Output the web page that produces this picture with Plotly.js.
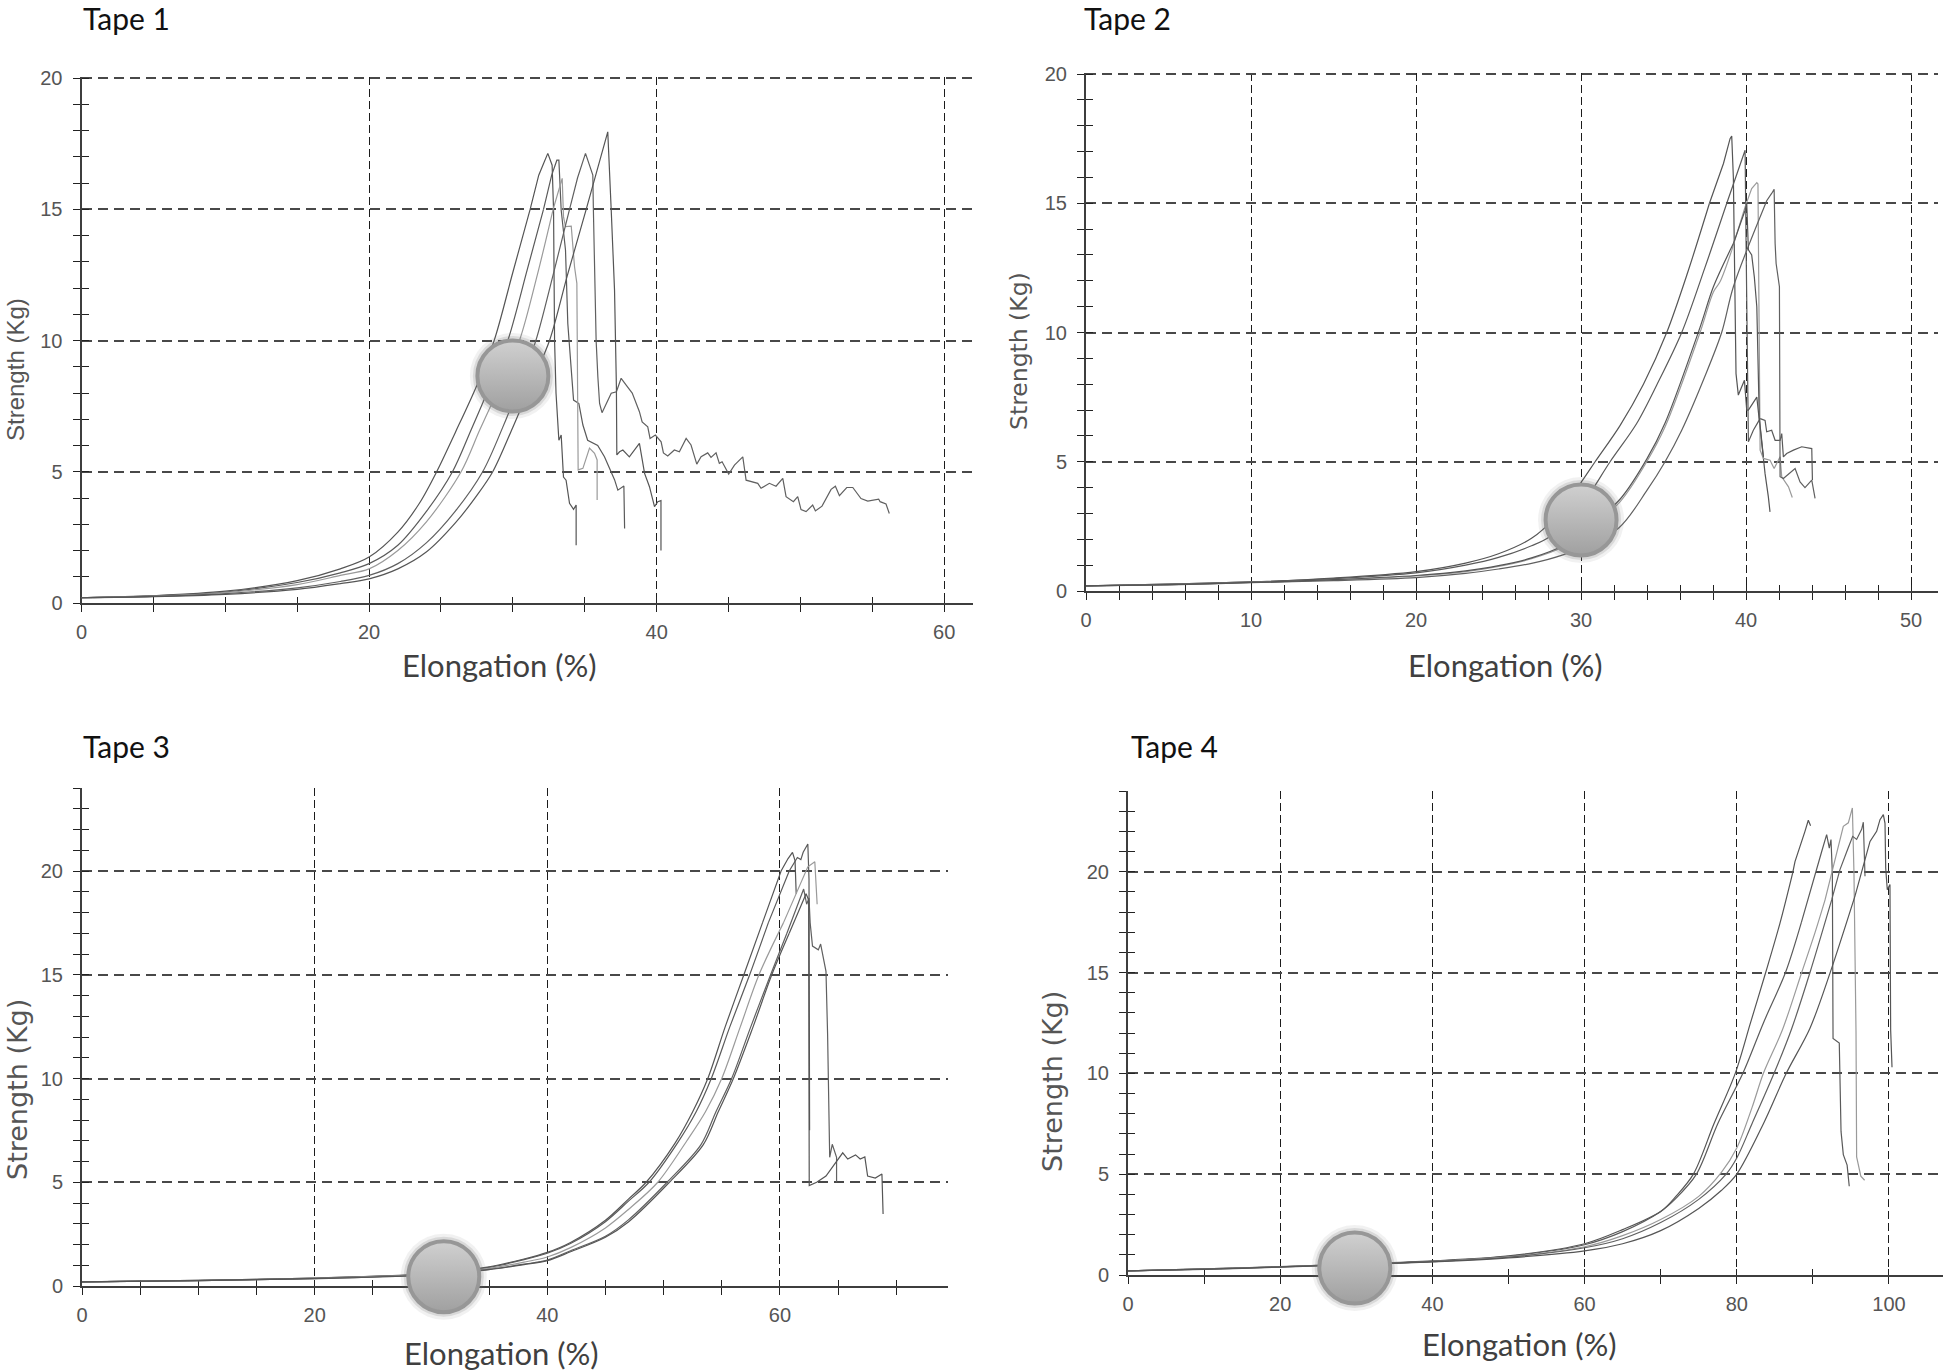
<!DOCTYPE html>
<html>
<head>
<meta charset="utf-8">
<script src="https://cdn.plot.ly/plotly-3.0.1.min.js"></script>
<style>html,body{margin:0;padding:0;background:#fff}</style>
</head>
<body>
<div id="chart" style="width:1946px;height:1371px"></div>
<script>
// ---------- values: [elongation %, strength Kg] ----------
const tape1A = [[0,.2],[5,.28],[10,.45],[15,.85],[18,1.3],[20,1.75],[22,2.7],[23.5,3.8],[24.7,5],[26,6.5],[27.5,8.3],[28.7,10],[30,12.6],[31.2,15],[31.8,16.3],[32.1,16.7],[32.43,17.13],[32.73,16.68],[32.83,14.97],[32.9,10],[33,8],[33.2,6.2],[33.36,6.4],[33.52,4.8],[33.7,4.68],[33.94,3.8],[34.22,3.57],[34.4,3.73],[34.4,2.2]];
const tape1B = [[0,.2],[5,.27],[10,.42],[15,.78],[18,1.15],[20,1.5],[22,2.2],[24,3.5],[25.8,5],[27.1,6.6],[28.5,8.4],[29.65,10],[31,12.7],[32.13,15],[32.7,16.3],[33.06,16.87],[33.2,16.87],[33.36,14.97],[33.66,13.45],[33.82,10.65],[34.06,8.87],[34.22,7.73],[34.59,7.6],[34.87,6.78],[35.2,6.2],[35.9,6],[36.37,5.57],[36.72,5.13],[37.07,4.7],[37.3,4.3],[37.72,4.46],[37.77,2.84]];
const tape1C = [[0,.2],[5,.26],[10,.4],[15,.7],[18,1.05],[20,1.3],[22,2],[24,3.1],[26.4,5],[27.7,6.6],[29.2,8.4],[30.46,10],[31.7,12.5],[32.8,15],[33.1,15.6],[33.43,16.18],[33.52,14.72],[33.66,14.34],[34.06,14.36],[34.29,12.8],[34.45,12.18],[34.54,5.07],[34.87,5.13],[35.33,5.9],[35.68,5.7],[35.86,5.45],[35.86,3.92]];
const tape1D = [[0,.2],[5,.25],[10,.36],[15,.58],[18,.82],[20,1.05],[22,1.5],[24,2.3],[26,3.5],[27.9,5],[29.3,6.7],[30.6,8.5],[31.6,10],[32.8,12.5],[33.94,15],[34.5,16.2],[35.05,17.13],[35.33,16.68],[35.56,16.3],[35.6,14.97],[35.79,10],[35.91,8.62],[36.03,7.6],[36.2,7.25],[36.5,7.6],[36.84,7.99],[37.2,8.05],[37.53,8.56],[37.88,8.3],[38.3,8],[38.8,7.29],[38.99,6.9],[39.38,6.71],[39.54,6.27],[39.91,6.4],[40.31,6.14],[40.47,5.72],[40.77,5.6],[41.23,5.83],[41.58,5.76],[42.05,6.27],[42.39,6.02],[42.79,5.29],[43.09,5.57],[43.55,5.72],[43.78,5.55],[44.13,5.72],[44.36,5.32],[44.55,5.38],[45.01,4.91],[45.41,5.25],[45.99,5.57],[46.22,4.68],[47.03,4.56],[47.26,4.37],[47.84,4.56],[48.3,4.45],[48.77,4.75],[49,4.05],[49.51,3.86],[49.81,4.05],[50.04,3.56],[50.39,3.48],[50.85,3.73],[51.04,3.51],[51.5,3.69],[52.13,4.33],[52.43,4.45],[52.71,4.09],[53.22,4.4],[53.64,4.4],[54.21,3.98],[54.68,3.88],[55.44,3.96],[55.54,3.86],[55.95,3.77],[56.18,3.41]];
const tape1E = [[0,.2],[5,.24],[10,.33],[15,.52],[18,.74],[20,.92],[22,1.3],[24,1.95],[26,3.05],[27.5,4.1],[28.6,5],[30,6.7],[31.4,8.5],[32.55,10],[33.8,12.5],[35.1,15],[35.9,16.6],[36.6,17.95],[36.84,14.97],[37.07,11.92],[37.2,8.24],[37.23,5.64],[37.42,5.76],[37.65,5.83],[38.1,5.57],[38.58,5.89],[38.8,6.08],[39.16,4.94],[39.5,4.43],[39.85,3.67],[40.08,3.86],[40.3,3.9],[40.3,2]];

const tape2A = [[0,.2],[5,.27],[10,.35],[15,.5],[20,.75],[23,1.08],[25,1.44],[27,2.04],[28.5,2.9],[30,4.2],[30.85,5],[32.36,6.4],[33.78,8],[35.19,10],[36.5,12.4],[37.78,15],[38.63,16.54],[39.03,17.5],[39.13,17.6],[39.23,16],[39.29,12.15],[39.39,8.41],[39.53,7.58],[39.9,8.15],[40.04,7],[40.14,7],[40.65,7.5],[40.8,6.6],[41.05,4.93],[41.15,4.54],[41.35,3.64],[41.45,3.06]];
const tape2B = [[0,.2],[5,.27],[10,.35],[15,.48],[20,.7],[23,1],[25,1.3],[27,1.75],[28.1,2.1],[30,3.3],[31.76,5],[33.37,6.48],[34.58,7.96],[36.1,10],[37.5,12.5],[38.83,15],[39.5,16.2],[39.94,17.05],[40,13.44],[40.08,9.57],[40.14,5.77],[40.44,6.22],[40.85,6.67],[41.15,6.6],[41.25,6.16],[41.55,6.22],[41.76,5.83],[42.06,5.83],[42.16,6.09],[42.26,5.19],[42.46,5.32],[42.87,5.45],[43.37,5.58],[43.98,5.51],[44.02,4.29]];
const tape2C = [[0,.2],[5,.25],[10,.33],[15,.43],[20,.58],[23,.75],[25,.95],[27,1.25],[28.9,1.7],[30,2.2],[32.36,3.45],[33.98,5],[35.09,6.35],[37.21,10],[38.02,11.57],[38.42,11.96],[39.13,13.18],[39.94,14.86],[40.34,15.57],[40.65,15.8],[40.72,15.75],[40.8,10.86],[40.85,5.45],[41.05,5.13],[41.45,5.06],[41.7,4.74],[42.06,5.19],[42.16,4.42],[42.57,4.03],[42.8,3.62]];
const tape2D = [[0,.2],[5,.24],[10,.32],[15,.4],[20,.52],[23,.68],[25,.85],[27,1.07],[28.9,1.4],[30,1.7],[32.3,2.45],[34,3.9],[35.09,5],[36.1,6.22],[37.5,8.3],[38.52,10],[39.23,11.77],[40.85,14.47],[41.25,15.1],[41.55,15.38],[41.7,15.54],[41.76,13.44],[41.82,12.67],[42.02,11.77],[42.06,4.42],[42.26,4.35],[42.97,4.74],[43.27,4.22],[43.57,4],[43.98,4.29],[44.18,3.58]];
const tape2E = [[0,.2],[5,.25],[10,.33],[15,.44],[20,.6],[23,.78],[25,.98],[27,1.28],[28.9,1.75],[30,2.25],[32.36,3.55],[33.98,5.1],[35.09,6.5],[37.21,10.2],[38.02,11.77],[39.23,13.44],[39.94,14.73],[40.04,15],[40.14,13.2],[40.34,13],[40.5,12.15],[40.65,11],[40.8,6.7],[41.05,5.19]];

const tape3A = [[0,.2],[10,.27],[20,.38],[30,.6],[35,.92],[38,1.3],[40,1.62],[42,2.1],[45,3.17],[47,4.2],[48.5,5],[51,6.9],[52.5,8.4],[53.8,10],[55.3,12.5],[56.9,15],[58.5,17.5],[60.1,20],[60.7,20.6],[61.08,20.9],[61.3,20.5],[61.4,18.9]];
const tape3B = [[0,.2],[10,.27],[20,.38],[30,.59],[35,.9],[38,1.27],[40,1.58],[42,2.05],[45,3.1],[47,4.1],[48.75,5],[51.2,6.9],[52.8,8.4],[54.1,10],[55.7,12.5],[57.4,15],[59,17.5],[60.8,20],[61.5,20.65],[61.8,20.55],[62,20.9],[62.4,21.3],[62.5,19.6],[62.55,7.5]];
const tape3C = [[0,.2],[10,.26],[20,.37],[30,.56],[35,.85],[38,1.15],[40,1.4],[42,1.85],[45,2.8],[47,3.7],[49.5,5],[52,7],[53.6,8.4],[55,10],[56.6,12.5],[58.2,15],[60.3,17.5],[62,19.7],[62.4,20.2],[63,20.45],[63.2,18.4]];
const tape3D = [[0,.2],[10,.26],[20,.36],[30,.53],[35,.8],[38,1.05],[40,1.25],[42,1.7],[45,2.4],[47,3.2],[50.3,5],[53.2,6.8],[54.5,8.4],[55.85,10],[57.5,12.5],[59.2,15],[60.6,17],[62.04,19.13],[62.3,18.4],[62.5,18.7],[62.6,17.5],[62.8,16.38],[63.3,16.2],[63.5,16.48],[63.96,15.16],[64.1,12.1],[64.28,6.2],[64.5,6.83],[64.87,6.2],[64.87,5]];
const tape3E = [[0,.2],[10,.26],[20,.36],[30,.53],[35,.79],[38,1.03],[40,1.22],[42,1.65],[45,2.35],[47,3.1],[50.5,5],[53.4,6.8],[54.7,8.4],[56,10],[57.7,12.5],[59.3,15],[60.8,17],[62.25,18.9],[62.47,18.6],[62.52,4.84],[63.16,5],[63.96,5.3],[65.4,6.42],[65.83,6.12],[66.5,6.32],[66.9,6.12],[67.3,6.22],[67.54,5.3],[68.2,5.2],[68.77,5.4],[68.87,3.47]];

const tape4A = [[0,.2],[10,.3],[20,.42],[30,.55],[40,.7],[50,.95],[60,1.55],[65,2.25],[70,3.15],[72,3.9],[74.3,5],[77,7.5],[79.8,10],[81.8,12.5],[83.8,15],[85.68,17.45],[87.34,19.93],[87.65,20.5],[88.96,22],[89.4,22.55],[89.7,22.28]];
const tape4B = [[0,.2],[10,.3],[20,.41],[30,.54],[40,.68],[50,.93],[60,1.5],[65,2.15],[70,3.15],[72,3.8],[74.7,5],[77.5,7.5],[80.8,10],[83.5,12.5],[86.4,15],[88.5,17.5],[90.28,19.93],[91.16,21],[91.81,21.84],[92.16,21.17],[92.38,21.59],[92.56,19.93],[92.65,11.73],[93.47,11.5],[93.7,7.12],[94,5.97],[94.5,5.45],[94.78,4.4]];
const tape4C = [[0,.2],[10,.29],[20,.4],[30,.53],[40,.67],[50,.9],[60,1.4],[65,1.95],[70,2.75],[75,3.9],[78,5.1],[80,6.3],[82,8.3],[83.5,10],[86,12.16],[88.53,15],[90.3,17],[91.6,18.6],[92.47,19.93],[93.35,21.26],[94,22.25],[94.66,22.42],[95.19,23.16],[95.4,19.93],[95.54,15.8],[95.67,12],[95.75,5.86],[96.3,4.9],[96.8,4.7]];
const tape4D = [[0,.2],[10,.29],[20,.4],[30,.53],[40,.66],[50,.88],[60,1.35],[65,1.8],[70,2.6],[75,3.75],[78.6,5],[80,5.8],[82,7.5],[84.9,10],[87.2,12.2],[89.62,15],[92.47,18.6],[93.56,20.1],[94.66,21.2],[95.23,21.75],[95.75,21.6],[96.41,22.1],[96.63,22.45],[96.85,19.77]];
const tape4E = [[0,.2],[10,.28],[20,.39],[30,.52],[40,.65],[50,.85],[60,1.2],[65,1.55],[70,2.2],[75,3.3],[78,4.2],[80,5],[83.5,7.5],[86.5,10],[89.62,12.24],[92.25,14.97],[95.54,18.8],[96.85,20.6],[97.16,21.1],[97.51,21.5],[98.38,22],[98.82,22.58],[99.26,22.83],[99.48,22.4],[99.57,20.18],[99.78,19.1],[100.13,19.36],[100.22,12.16],[100.4,10.3]];

const seriesColours = ['#555555','#5a5a5a','#9a9a9a','#606060','#555555'];
const tapeNames = ['Tape 1','Tape 2','Tape 3','Tape 4'];
const xTitle = 'Elongation (%)';
const yTitle = 'Strength (Kg)';
const circleX = [30, 30, 31.1, 29.8];
const circleY = [8.65, 2.75, 0.45, 0.35];

// ---------- layout description (pixels) ----------
const W = 1946, H = 1371;
const panels = [
  {curves:[tape1A,tape1B,tape1C,tape1D,tape1E], px:[81.5,973], py:[77,603], xr:[0,62.0], yr:[0,20.04], xd:20, xm:5,
   yfont:{family:'"Liberation Sans", Arial, sans-serif', size:24},
   title:[81,18], xt:[499,665], yt:[15,370]},
  {curves:[tape2A,tape2B,tape2C,tape2D,tape2E], px:[1086,1938], py:[73,591], xr:[0,51.63], yr:[0,20.04], xd:10, xm:2,
   yfont:{family:'"DejaVu Sans", Verdana, sans-serif', size:23.5},
   title:[1082,18], xt:[1505,665], yt:[1019,351]},
  {curves:[tape3A,tape3B,tape3C,tape3D,tape3E], px:[82,948], py:[788,1286], xr:[0,74.45], yr:[0,24], xd:20, xm:5,
   yfont:{family:'"DejaVu Sans", Verdana, sans-serif', size:27},
   title:[81,746], xt:[501,1353], yt:[17,1090]},
  {curves:[tape4A,tape4B,tape4C,tape4D,tape4E], px:[1128,1943], py:[791,1275], xr:[0,107.1], yr:[0,24], xd:20, xm:10,
   yfont:{family:'"DejaVu Sans", Verdana, sans-serif', size:27},
   title:[1129,746], xt:[1519,1344], yt:[1052,1082]}
];

const tickFont = {family:'"Liberation Sans", Arial, sans-serif', size:20, color:'#555555'};
const titleFont = {family:'Lato, "Open Sans", sans-serif', size:31, color:'#404040'};
const data = [], annotations = [];
const layout = {
  width:W, height:H, margin:{l:0,r:0,t:0,b:0}, showlegend:false,
  paper_bgcolor:'#ffffff', plot_bgcolor:'#ffffff', annotations
};

panels.forEach((p,i)=>{
  const n = i+1, ov = i+5;
  const xKey = n===1?'x':'x'+n, yKey = n===1?'y':'y'+n;
  const xDom = [p.px[0]/W, p.px[1]/W];
  const yDom = [1-p.py[1]/H, 1-p.py[0]/H];
  const base = {layer:'below traces', fixedrange:true, zeroline:false};

  // main axes: outward half of every tick, labels, dashed grid
  layout['xaxis'+(n===1?'':n)] = Object.assign({}, base, {
    domain:xDom, range:p.xr, anchor:yKey, tick0:0, dtick:p.xd,
    ticks:'outside', ticklen:7, tickwidth:1, tickcolor:'#222', tickfont:tickFont, ticklabelstandoff:3,
    minor:{dtick:p.xm, ticks:'outside', ticklen:7, tickwidth:1, tickcolor:'#222', showgrid:false},
    showline:true, linecolor:'#3e3e3e', linewidth:2,
    showgrid:true, gridcolor:'#1c1c1c', gridwidth:1, griddash:'8px,4px'
  });
  layout['yaxis'+(n===1?'':n)] = Object.assign({}, base, {
    domain:yDom, range:p.yr, anchor:xKey, tick0:0, dtick:5,
    ticks:'outside', ticklen:7, tickwidth:1, tickcolor:'#222', tickfont:tickFont, ticklabelstandoff:6,
    minor:{dtick:1, ticks:'outside', ticklen:7, tickwidth:1, tickcolor:'#222', showgrid:false},
    showline:true, linecolor:'#3e3e3e', linewidth:2,
    showgrid:true, gridcolor:'#484848', gridwidth:2, griddash:'10px,6px'
  });

  // overlay axes: inward half of the minor ticks, so ticks cross the axis line
  layout['xaxis'+ov] = Object.assign({}, base, {
    domain:xDom, range:p.xr, anchor:'y'+ov, overlaying:xKey, tick0:0, dtick:p.xm,
    ticks:'inside', ticklen:6, tickwidth:1, tickcolor:'#222',
    showticklabels:false, showgrid:false, showline:false
  });
  layout['yaxis'+ov] = Object.assign({}, base, {
    domain:yDom, range:p.yr, anchor:'x'+ov, overlaying:yKey, tick0:0, dtick:1,
    ticks:'inside', ticklen:7, tickwidth:1, tickcolor:'#222',
    showticklabels:false, showgrid:false, showline:false
  });

  p.curves.forEach((c,k)=>{
    // the smooth rising part is drawn as a spline, the jagged break and tail as straight segments
    const peak = Math.max(...c.map(q=>q[1]));
    const cut = c.findIndex(q=>q[1] >= 0.8*peak);
    const rise = c.slice(0,cut+1), tail = c.slice(cut);
    data.push({type:'scatter', mode:'lines', xaxis:xKey, yaxis:yKey, hoverinfo:'skip',
      x:rise.map(q=>q[0]), y:rise.map(q=>q[1]),
      line:{color:seriesColours[k], width:1.2, shape:'spline', smoothing:0.9}});
    data.push({type:'scatter', mode:'lines', xaxis:xKey, yaxis:yKey, hoverinfo:'skip',
      x:tail.map(q=>q[0]), y:tail.map(q=>q[1]),
      line:{color:seriesColours[k], width:1.2}});
  });

  // circular marker with soft shadow, on the overlay subplot so it covers axis and curves
  [[86,'rgba(120,120,120,0.10)'],[80,'rgba(110,110,110,0.18)']].forEach(s=>{
    data.push({type:'scatter', mode:'markers', xaxis:'x'+ov, yaxis:'y'+ov, hoverinfo:'skip', cliponaxis:false,
      x:[circleX[i]], y:[circleY[i]], marker:{size:s[0], color:s[1], line:{width:0}}});
  });
  data.push({type:'scatter', mode:'markers', xaxis:'x'+ov, yaxis:'y'+ov, hoverinfo:'skip', cliponaxis:false,
    x:[circleX[i]], y:[circleY[i]],
    marker:{size:71, color:'#d0d0d0', gradient:{type:'vertical', color:'#a0a0a0'}, line:{width:4, color:'#979797'}}});

  annotations.push(
    {text:tapeNames[i], xref:'paper', yref:'paper', x:p.title[0]/W, y:1-p.title[1]/H, xanchor:'left', yanchor:'middle', showarrow:false,
     font:{family:'Lato, "Open Sans", sans-serif', size:30, color:'#111111'}},
    {text:xTitle, xref:'paper', yref:'paper', x:p.xt[0]/W, y:1-p.xt[1]/H, xanchor:'center', yanchor:'middle', showarrow:false, font:titleFont},
    {text:yTitle, xref:'paper', yref:'paper', x:p.yt[0]/W, y:1-p.yt[1]/H, xanchor:'center', yanchor:'middle', showarrow:false, textangle:-90,
     font:Object.assign({color:'#555555'}, p.yfont)}
  );
});

Plotly.newPlot('chart', data, layout, {displayModeBar:false});
</script>
</body>
</html>
